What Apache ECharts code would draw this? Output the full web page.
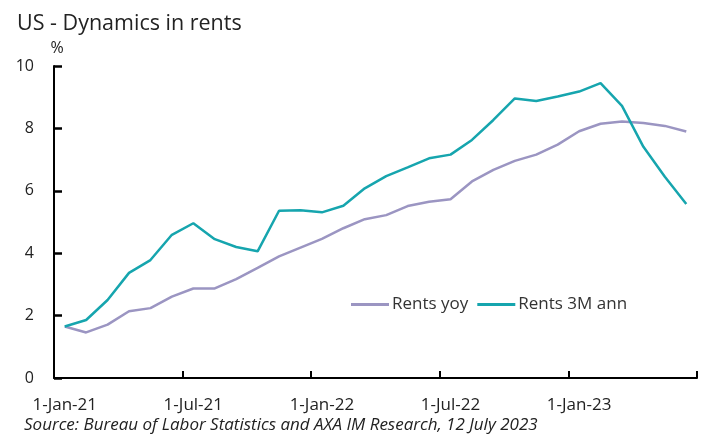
<!DOCTYPE html>
<html>
<head>
<meta charset="utf-8">
<script src="https://cdn.jsdelivr.net/npm/echarts@6/dist/echarts.min.js"></script>
<style>
html,body{margin:0;padding:0;background:#fff;}
#c{width:705px;height:434px;}
</style>
</head>
<body>
<div id="c"></div>
<script>
const months = [
  '1-Jan-21','1-Feb-21','1-Mar-21','1-Apr-21','1-May-21','1-Jun-21',
  '1-Jul-21','1-Aug-21','1-Sep-21','1-Oct-21','1-Nov-21','1-Dec-21',
  '1-Jan-22','1-Feb-22','1-Mar-22','1-Apr-22','1-May-22','1-Jun-22',
  '1-Jul-22','1-Aug-22','1-Sep-22','1-Oct-22','1-Nov-22','1-Dec-22',
  '1-Jan-23','1-Feb-23','1-Mar-23','1-Apr-23','1-May-23','1-Jun-23'
];
const rentsYoy = [1.65,1.46,1.71,2.14,2.24,2.61,2.87,2.87,3.17,3.53,3.90,4.18,4.46,4.80,5.09,5.22,5.51,5.65,5.73,6.30,6.67,6.96,7.16,7.48,7.91,8.15,8.22,8.17,8.08,7.90];
const rents3M = [1.65,1.86,2.50,3.37,3.78,4.59,4.96,4.45,4.20,4.06,5.36,5.38,5.31,5.52,6.08,6.47,6.75,7.04,7.16,7.63,8.27,8.96,8.88,9.02,9.18,9.45,8.72,7.41,6.45,5.58];
const yTicks = [0,2,4,6,8,10];

const FONT = '"Open Sans", Lato, sans-serif';
const chart = echarts.init(document.getElementById('c'));
chart.setOption({
  animation: false,
  title: [
    {text: 'US - Dynamics in rents', left: 17, top: 12, padding: 0,
     textStyle: {fontFamily: FONT, fontSize: 21.5, lineHeight: 24, fontWeight: 'normal', color: '#222'}},
    {text: 'Source: Bureau of Labor Statistics and AXA IM Research, 12 July 2023', left: 24, top: 416, padding: 0,
     textStyle: {fontFamily: FONT, fontSize: 17, lineHeight: 19, fontStyle: 'italic', fontWeight: 'normal', color: '#222'}}
  ],
  legend: {
    left: 346, top: 291, icon: 'rect', itemWidth: 38, itemHeight: 3, itemGap: 9,
    textStyle: {fontFamily: FONT, fontSize: 17, color: '#333', padding: [0,0,0,-2]},
    data: ['Rents yoy', 'Rents 3M ann']
  },
  grid: {left: 54, right: 8, top: 66, bottom: 56, containLabel: false},
  xAxis: {
    type: 'category', data: months, boundaryGap: true,
    axisLine: {lineStyle: {color: '#000', width: 2}},
    axisTick: {show: true, inside: true, length: 7, interval: 5, lineStyle: {color: '#000', width: 2}},
    axisLabel: {interval: 5, margin: 19, fontFamily: FONT, fontSize: 17, color: '#222'}
  },
  yAxis: {
    type: 'value', min: 0, max: 10, interval: 2,
    name: '%', nameGap: 10,
    nameTextStyle: {fontFamily: FONT, fontSize: 16, color: '#222', align: 'center', padding: [0,0,0,6]},
    axisLine: {show: true, lineStyle: {color: '#000', width: 2}},
    axisTick: {show: true, inside: true, length: 8, lineStyle: {color: '#000', width: 2.5}},
    splitLine: {show: false},
    axisLabel: {margin: 20, fontFamily: FONT, fontSize: 16, color: '#222',
      formatter: v => yTicks.includes(v) ? String(v) : ''}
  },
  series: [
    {name: 'Rents yoy', type: 'line', data: rentsYoy, symbol: 'none',
     lineStyle: {color: '#9B95C2', width: 2.5}, itemStyle: {color: '#9B95C2'}, z: 2},
    {name: 'Rents 3M ann', type: 'line', data: rents3M, symbol: 'none',
     lineStyle: {color: '#16A5AE', width: 2.5}, itemStyle: {color: '#16A5AE'}, z: 3}
  ]
});
</script>
</body>
</html>
